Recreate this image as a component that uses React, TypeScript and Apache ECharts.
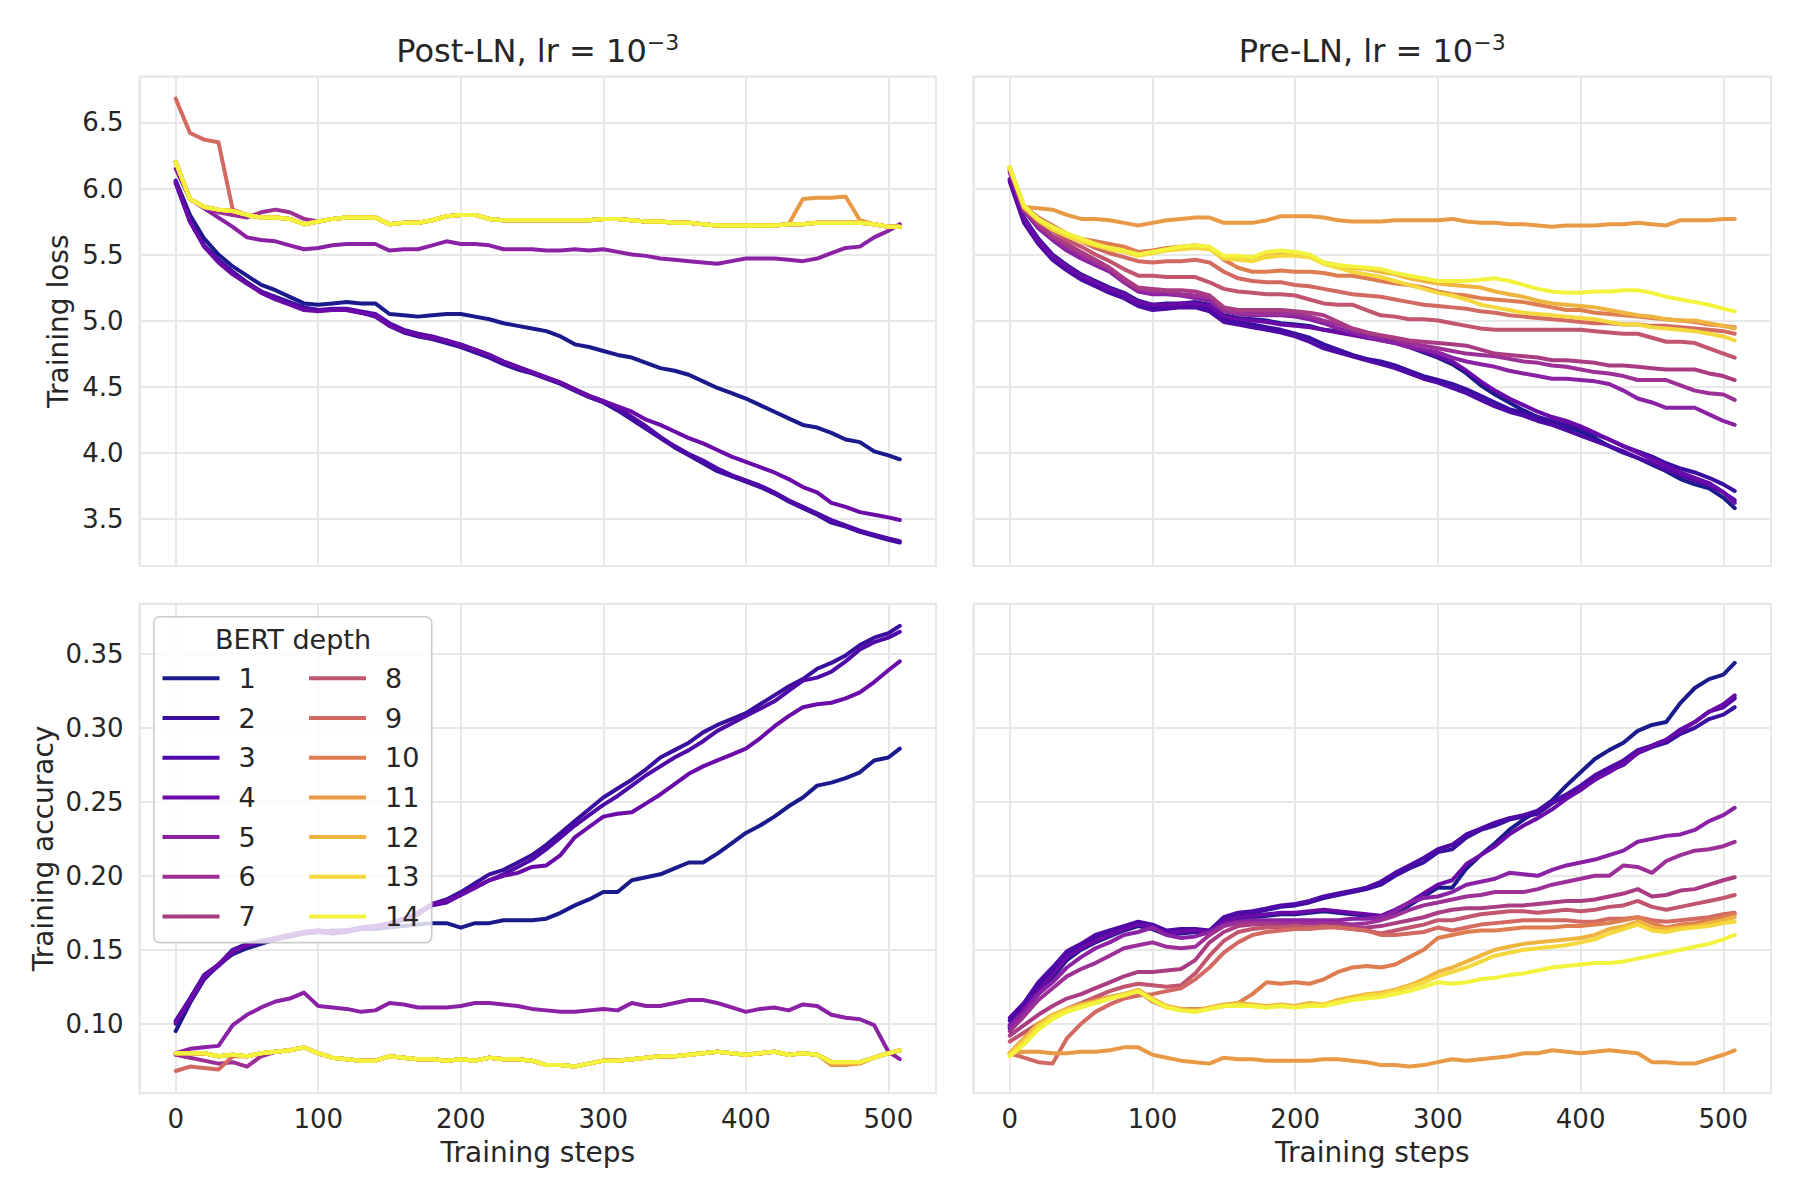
import React, { useEffect, useRef } from 'react';
import * as echarts from 'echarts';

const FONT = 'DejaVu Sans';
const TEXT = '#262626';

const steps = [0, 10, 20, 30, 40, 50, 60, 70, 80, 90, 100, 110, 120, 130, 140, 150, 160, 170, 180, 190, 200, 210, 220, 230, 240, 250, 260, 270, 280, 290, 300, 310, 320, 330, 340, 350, 360, 370, 380, 390, 400, 410, 420, 430, 440, 450, 460, 470, 480, 490, 500, 508];

const depths = ['1', '2', '3', '4', '5', '6', '7', '8', '9', '10', '11', '12', '13', '14'];
const depthColors = ['#1b1a8c', '#3a0f9f', '#4e09a6', '#6a0aa8', '#8b22a6', '#9d3097', '#aa3c84', '#c2566f', '#d26a62', '#de7e50', '#e99a46', '#efb43f', '#f4d83c', '#f3f23c'];

const panelTitles = ['Post-LN, lr = 10', 'Pre-LN, lr = 10'];
const titleExponent = '\u22123';
const xName = 'Training steps';
const yNames = ['Training loss', 'Training accuracy'];
const legendTitle = 'BERT depth';

// ---------- Post-LN training loss ----------
const postLoss1 = [6.06, 5.80, 5.62, 5.50, 5.41, 5.34, 5.27, 5.23, 5.18, 5.13,
  5.12, 5.13, 5.14, 5.13, 5.13, 5.05, 5.04, 5.03, 5.04, 5.05,
  5.05, 5.03, 5.01, 4.98, 4.96, 4.94, 4.92, 4.88, 4.82, 4.80,
  4.77, 4.74, 4.72, 4.68, 4.64, 4.62, 4.59, 4.54, 4.49, 4.45,
  4.41, 4.36, 4.31, 4.26, 4.21, 4.19, 4.15, 4.10, 4.08, 4.01,
  3.98, 3.95];
const postLoss2 = [6.05, 5.76, 5.57, 5.46, 5.37, 5.29, 5.22, 5.18, 5.14, 5.10,
  5.08, 5.08, 5.08, 5.06, 5.03, 4.96, 4.91, 4.88, 4.86, 4.83,
  4.80, 4.76, 4.72, 4.67, 4.63, 4.60, 4.56, 4.52, 4.47, 4.42,
  4.38, 4.32, 4.25, 4.18, 4.11, 4.04, 3.98, 3.92, 3.86, 3.82,
  3.78, 3.74, 3.69, 3.63, 3.58, 3.53, 3.47, 3.44, 3.40, 3.37,
  3.34, 3.32];
const postLoss3 = [6.04, 5.75, 5.56, 5.45, 5.36, 5.28, 5.22, 5.17, 5.13, 5.09,
  5.08, 5.09, 5.09, 5.07, 5.05, 4.98, 4.93, 4.90, 4.88, 4.85,
  4.82, 4.78, 4.74, 4.69, 4.65, 4.61, 4.57, 4.53, 4.48, 4.43,
  4.39, 4.34, 4.27, 4.20, 4.12, 4.05, 3.99, 3.94, 3.88, 3.83,
  3.79, 3.75, 3.70, 3.64, 3.59, 3.54, 3.49, 3.45, 3.41, 3.38,
  3.35, 3.33];
const postLoss4 = [6.05, 5.75, 5.56, 5.44, 5.35, 5.28, 5.21, 5.16, 5.12, 5.08,
  5.07, 5.08, 5.08, 5.06, 5.04, 4.96, 4.92, 4.89, 4.87, 4.85,
  4.81, 4.78, 4.74, 4.69, 4.65, 4.61, 4.57, 4.53, 4.48, 4.43,
  4.39, 4.35, 4.31, 4.25, 4.21, 4.16, 4.11, 4.07, 4.02, 3.97,
  3.93, 3.89, 3.85, 3.80, 3.74, 3.70, 3.62, 3.59, 3.55, 3.53,
  3.51, 3.49];
const postLoss5 = [6.15, 5.92, 5.85, 5.78, 5.71, 5.63, 5.61, 5.60, 5.57, 5.54,
  5.55, 5.57, 5.58, 5.58, 5.58, 5.53, 5.54, 5.54, 5.57, 5.60,
  5.58, 5.58, 5.57, 5.54, 5.54, 5.54, 5.53, 5.53, 5.54, 5.53,
  5.54, 5.52, 5.50, 5.49, 5.47, 5.46, 5.45, 5.44, 5.43, 5.45,
  5.47, 5.47, 5.47, 5.46, 5.45, 5.47, 5.51, 5.55, 5.56, 5.63,
  5.68, 5.73];
const postLoss6 = [6.20, 5.92, 5.86, 5.82, 5.80, 5.78, 5.82, 5.84, 5.82, 5.77,
  5.75, 5.77, 5.78, 5.78, 5.78, 5.73, 5.74, 5.74, 5.76, 5.79,
  5.80, 5.80, 5.77, 5.76, 5.76, 5.76, 5.76, 5.76, 5.76, 5.76,
  5.77, 5.77, 5.76, 5.75, 5.75, 5.74, 5.74, 5.73, 5.72, 5.72,
  5.72, 5.72, 5.72, 5.73, 5.73, 5.74, 5.74, 5.74, 5.74, 5.73,
  5.71, 5.71];
const postLossFlat = [6.20, 5.92, 5.86, 5.84, 5.83, 5.80, 5.78, 5.78, 5.77, 5.73,
  5.75, 5.77, 5.78, 5.78, 5.78, 5.73, 5.74, 5.74, 5.76, 5.79,
  5.80, 5.80, 5.77, 5.76, 5.76, 5.76, 5.76, 5.76, 5.76, 5.76,
  5.77, 5.77, 5.76, 5.75, 5.75, 5.74, 5.74, 5.73, 5.72, 5.72,
  5.72, 5.72, 5.72, 5.73, 5.73, 5.74, 5.74, 5.74, 5.74, 5.73,
  5.71, 5.71];
const postLoss9 = [6.68, 6.42, 6.37, 6.35, 5.84, 5.80, 5.78, 5.78, 5.77, 5.73,
  5.75, 5.77, 5.78, 5.78, 5.78, 5.73, 5.74, 5.74, 5.76, 5.79,
  5.80, 5.80, 5.77, 5.76, 5.76, 5.76, 5.76, 5.76, 5.76, 5.76,
  5.77, 5.77, 5.76, 5.75, 5.75, 5.74, 5.74, 5.73, 5.72, 5.72,
  5.72, 5.72, 5.72, 5.73, 5.73, 5.74, 5.74, 5.74, 5.74, 5.73,
  5.71, 5.71];
const postLoss11 = [6.20, 5.92, 5.86, 5.84, 5.83, 5.80, 5.78, 5.78, 5.77, 5.73,
  5.75, 5.77, 5.78, 5.78, 5.78, 5.73, 5.74, 5.74, 5.76, 5.79,
  5.80, 5.80, 5.77, 5.76, 5.76, 5.76, 5.76, 5.76, 5.76, 5.76,
  5.77, 5.77, 5.76, 5.75, 5.75, 5.74, 5.74, 5.73, 5.72, 5.72,
  5.72, 5.72, 5.72, 5.73, 5.92, 5.93, 5.93, 5.94, 5.76, 5.73,
  5.71, 5.71];

// ---------- Post-LN training accuracy ----------
const postAcc1 = [0.095, 0.114, 0.130, 0.140, 0.147, 0.151, 0.154, 0.157, 0.159, 0.161,
  0.162, 0.163, 0.163, 0.164, 0.164, 0.165, 0.166, 0.167, 0.168, 0.168,
  0.165, 0.168, 0.168, 0.170, 0.170, 0.170, 0.171, 0.175, 0.180, 0.184,
  0.189, 0.189, 0.197, 0.199, 0.201, 0.205, 0.209, 0.209, 0.215, 0.222,
  0.229, 0.234, 0.240, 0.247, 0.253, 0.261, 0.263, 0.266, 0.270, 0.278,
  0.280, 0.286];
const postAcc2 = [0.102, 0.117, 0.133, 0.140, 0.150, 0.154, 0.156, 0.158, 0.160, 0.162,
  0.163, 0.162, 0.163, 0.165, 0.166, 0.168, 0.171, 0.175, 0.181, 0.184,
  0.189, 0.195, 0.201, 0.204, 0.209, 0.214, 0.221, 0.229, 0.237, 0.245,
  0.253, 0.259, 0.265, 0.272, 0.280, 0.285, 0.290, 0.297, 0.302, 0.306,
  0.310, 0.316, 0.322, 0.328, 0.333, 0.340, 0.344, 0.349, 0.356, 0.361,
  0.364, 0.369];
const postAcc3 = [0.100, 0.115, 0.131, 0.139, 0.148, 0.153, 0.155, 0.157, 0.159, 0.161,
  0.162, 0.161, 0.162, 0.164, 0.165, 0.167, 0.170, 0.174, 0.180, 0.182,
  0.187, 0.192, 0.197, 0.201, 0.206, 0.211, 0.218, 0.226, 0.234, 0.241,
  0.248, 0.254, 0.261, 0.268, 0.274, 0.280, 0.285, 0.291, 0.298, 0.303,
  0.308, 0.313, 0.318, 0.325, 0.332, 0.334, 0.338, 0.345, 0.353, 0.358,
  0.361, 0.365];
const postAcc4 = [0.101, 0.116, 0.132, 0.140, 0.149, 0.153, 0.156, 0.158, 0.160, 0.162,
  0.163, 0.162, 0.163, 0.164, 0.166, 0.168, 0.171, 0.175, 0.181, 0.183,
  0.187, 0.192, 0.197, 0.200, 0.202, 0.206, 0.207, 0.214, 0.226, 0.233,
  0.240, 0.242, 0.243, 0.249, 0.255, 0.262, 0.269, 0.274, 0.278, 0.282,
  0.286, 0.293, 0.301, 0.308, 0.314, 0.316, 0.317, 0.320, 0.324, 0.331,
  0.339, 0.345];
const postAcc5 = [0.080, 0.083, 0.084, 0.085, 0.099, 0.106, 0.111, 0.115, 0.117, 0.121,
  0.112, 0.111, 0.110, 0.108, 0.109, 0.114, 0.113, 0.111, 0.111, 0.111,
  0.112, 0.114, 0.114, 0.113, 0.112, 0.110, 0.109, 0.108, 0.108, 0.109,
  0.110, 0.109, 0.114, 0.112, 0.112, 0.114, 0.116, 0.116, 0.114, 0.111,
  0.108, 0.110, 0.111, 0.109, 0.113, 0.112, 0.106, 0.104, 0.103, 0.099,
  0.081, 0.076];
const postAcc6 = [0.079, 0.077, 0.075, 0.073, 0.074, 0.071, 0.078, 0.081, 0.082, 0.084,
  0.080, 0.077, 0.076, 0.075, 0.075, 0.078, 0.077, 0.076, 0.076, 0.075,
  0.076, 0.075, 0.077, 0.076, 0.076, 0.075, 0.072, 0.072, 0.071, 0.073,
  0.075, 0.075, 0.076, 0.077, 0.078, 0.078, 0.079, 0.080, 0.081, 0.080,
  0.079, 0.080, 0.081, 0.079, 0.080, 0.079, 0.074, 0.074, 0.074, 0.077,
  0.080, 0.082];
const postAccFlat = [0.080, 0.080, 0.080, 0.078, 0.079, 0.078, 0.080, 0.081, 0.082, 0.084,
  0.080, 0.077, 0.076, 0.075, 0.075, 0.078, 0.077, 0.076, 0.076, 0.075,
  0.076, 0.075, 0.077, 0.076, 0.076, 0.075, 0.072, 0.072, 0.071, 0.073,
  0.075, 0.075, 0.076, 0.077, 0.078, 0.078, 0.079, 0.080, 0.081, 0.080,
  0.079, 0.080, 0.081, 0.079, 0.080, 0.079, 0.074, 0.074, 0.074, 0.077,
  0.080, 0.082];
const postAcc9 = [0.068, 0.071, 0.070, 0.069, 0.078, 0.078, 0.080, 0.081, 0.082, 0.084,
  0.080, 0.077, 0.076, 0.075, 0.075, 0.078, 0.077, 0.076, 0.076, 0.075,
  0.076, 0.075, 0.077, 0.076, 0.076, 0.075, 0.072, 0.072, 0.071, 0.073,
  0.075, 0.075, 0.076, 0.077, 0.078, 0.078, 0.079, 0.080, 0.081, 0.080,
  0.079, 0.080, 0.081, 0.079, 0.080, 0.079, 0.074, 0.074, 0.074, 0.077,
  0.080, 0.082];
const postAcc11 = [0.080, 0.080, 0.080, 0.078, 0.079, 0.078, 0.080, 0.081, 0.082, 0.084,
  0.080, 0.077, 0.076, 0.075, 0.075, 0.078, 0.077, 0.076, 0.076, 0.075,
  0.076, 0.075, 0.077, 0.076, 0.076, 0.075, 0.072, 0.072, 0.071, 0.073,
  0.075, 0.075, 0.076, 0.077, 0.078, 0.078, 0.079, 0.080, 0.081, 0.080,
  0.079, 0.080, 0.081, 0.079, 0.080, 0.079, 0.072, 0.072, 0.073, 0.077,
  0.080, 0.082];

// ---------- Pre-LN training loss ----------
const preLoss1 = [6.06, 5.78, 5.62, 5.50, 5.42, 5.35, 5.30, 5.25, 5.21, 5.15,
  5.12, 5.13, 5.13, 5.14, 5.12, 5.04, 5.02, 5.01, 5.00, 4.98,
  4.97, 4.96, 4.93, 4.92, 4.90, 4.88, 4.86, 4.84, 4.80, 4.76,
  4.72, 4.67, 4.60, 4.51, 4.44, 4.38, 4.32, 4.27, 4.23, 4.20,
  4.16, 4.11, 4.05, 4.00, 3.96, 3.91, 3.86, 3.80, 3.76, 3.73,
  3.66, 3.58];
const preLoss2 = [6.07, 5.76, 5.60, 5.48, 5.40, 5.33, 5.28, 5.23, 5.19, 5.13,
  5.10, 5.11, 5.11, 5.12, 5.09, 5.01, 4.99, 4.97, 4.95, 4.93,
  4.90, 4.87, 4.82, 4.78, 4.74, 4.71, 4.69, 4.66, 4.62, 4.58,
  4.55, 4.52, 4.48, 4.43, 4.38, 4.33, 4.30, 4.27, 4.24, 4.21,
  4.18, 4.14, 4.10, 4.05, 4.01, 3.97, 3.92, 3.88, 3.85, 3.81,
  3.76, 3.71];
const preLoss3 = [6.05, 5.74, 5.58, 5.46, 5.38, 5.31, 5.26, 5.21, 5.17, 5.11,
  5.08, 5.09, 5.10, 5.10, 5.07, 4.99, 4.97, 4.95, 4.93, 4.91,
  4.88, 4.84, 4.79, 4.76, 4.73, 4.70, 4.67, 4.64, 4.60, 4.56,
  4.53, 4.49, 4.45, 4.40, 4.35, 4.31, 4.28, 4.24, 4.21, 4.17,
  4.13, 4.09, 4.05, 4.01, 3.96, 3.92, 3.87, 3.83, 3.79, 3.75,
  3.70, 3.64];
const preLoss4 = [6.07, 5.77, 5.61, 5.49, 5.41, 5.34, 5.29, 5.24, 5.20, 5.14,
  5.12, 5.12, 5.13, 5.13, 5.11, 5.03, 5.01, 5.00, 4.99, 4.97,
  4.96, 4.95, 4.93, 4.91, 4.89, 4.87, 4.85, 4.83, 4.80, 4.77,
  4.73, 4.69, 4.62, 4.54, 4.47, 4.41, 4.36, 4.31, 4.27, 4.24,
  4.20, 4.15, 4.10, 4.05, 4.00, 3.95, 3.90, 3.85, 3.81, 3.77,
  3.70, 3.62];
const preLoss5 = [6.12, 5.83, 5.70, 5.61, 5.53, 5.47, 5.42, 5.37, 5.29, 5.22,
  5.20, 5.20, 5.19, 5.17, 5.15, 5.07, 5.05, 5.04, 5.04, 5.04,
  5.03, 5.01, 4.98, 4.94, 4.91, 4.88, 4.85, 4.83, 4.80, 4.78,
  4.76, 4.72, 4.69, 4.67, 4.65, 4.62, 4.60, 4.58, 4.56, 4.56,
  4.55, 4.54, 4.52, 4.47, 4.41, 4.38, 4.34, 4.34, 4.34, 4.29,
  4.24, 4.21];
const preLoss6 = [6.13, 5.83, 5.72, 5.63, 5.56, 5.50, 5.44, 5.39, 5.30, 5.24,
  5.22, 5.22, 5.20, 5.19, 5.18, 5.08, 5.06, 5.05, 5.05, 5.05,
  5.05, 5.03, 5.00, 4.97, 4.94, 4.91, 4.88, 4.86, 4.83, 4.81,
  4.79, 4.77, 4.75, 4.74, 4.73, 4.71, 4.69, 4.68, 4.66, 4.65,
  4.63, 4.61, 4.60, 4.58, 4.55, 4.55, 4.55, 4.51, 4.47, 4.45,
  4.44, 4.40];
const preLoss7 = [6.14, 5.84, 5.73, 5.64, 5.58, 5.52, 5.46, 5.40, 5.32, 5.25,
  5.24, 5.23, 5.23, 5.22, 5.19, 5.10, 5.08, 5.08, 5.08, 5.08,
  5.07, 5.06, 5.04, 4.99, 4.94, 4.91, 4.89, 4.87, 4.85, 4.84,
  4.83, 4.82, 4.81, 4.78, 4.75, 4.74, 4.73, 4.72, 4.70, 4.70,
  4.69, 4.68, 4.66, 4.66, 4.65, 4.64, 4.63, 4.63, 4.63, 4.60,
  4.58, 4.55];
const preLoss8 = [6.15, 5.86, 5.75, 5.68, 5.61, 5.56, 5.50, 5.45, 5.39, 5.34,
  5.34, 5.33, 5.33, 5.33, 5.29, 5.24, 5.22, 5.21, 5.20, 5.20,
  5.19, 5.16, 5.13, 5.12, 5.12, 5.08, 5.04, 5.03, 5.01, 5.01,
  5.00, 4.98, 4.96, 4.94, 4.93, 4.93, 4.93, 4.93, 4.93, 4.93,
  4.93, 4.92, 4.91, 4.90, 4.90, 4.87, 4.84, 4.84, 4.83, 4.79,
  4.75, 4.72];
const preLoss9 = [6.14, 5.87, 5.78, 5.72, 5.66, 5.60, 5.55, 5.51, 5.48, 5.45,
  5.44, 5.45, 5.45, 5.46, 5.44, 5.37, 5.32, 5.30, 5.29, 5.29,
  5.27, 5.26, 5.24, 5.22, 5.20, 5.19, 5.18, 5.16, 5.14, 5.12,
  5.11, 5.10, 5.09, 5.07, 5.06, 5.04, 5.03, 5.02, 5.01, 5.00,
  4.99, 4.98, 4.98, 4.97, 4.97, 4.96, 4.96, 4.95, 4.94, 4.93,
  4.92, 4.90];
const preLoss10 = [6.16, 5.85, 5.76, 5.70, 5.65, 5.62, 5.60, 5.58, 5.56, 5.52,
  5.53, 5.55, 5.56, 5.57, 5.55, 5.46, 5.40, 5.37, 5.37, 5.38,
  5.37, 5.37, 5.36, 5.34, 5.34, 5.32, 5.30, 5.28, 5.27, 5.25,
  5.22, 5.20, 5.19, 5.17, 5.16, 5.15, 5.14, 5.12, 5.10, 5.08,
  5.08, 5.06, 5.05, 5.04, 5.03, 5.02, 5.01, 5.00, 4.99, 4.97,
  4.96, 4.95];
const preLoss11 = [6.16, 5.86, 5.85, 5.84, 5.80, 5.77, 5.77, 5.76, 5.74, 5.72,
  5.74, 5.76, 5.77, 5.78, 5.78, 5.74, 5.74, 5.74, 5.76, 5.79,
  5.79, 5.79, 5.78, 5.76, 5.75, 5.75, 5.75, 5.76, 5.76, 5.76,
  5.76, 5.77, 5.75, 5.74, 5.74, 5.73, 5.73, 5.72, 5.71, 5.72,
  5.72, 5.72, 5.73, 5.73, 5.74, 5.73, 5.72, 5.76, 5.76, 5.76,
  5.77, 5.77];
const preLoss12 = [6.16, 5.86, 5.76, 5.69, 5.64, 5.60, 5.57, 5.55, 5.53, 5.50,
  5.52, 5.54, 5.55, 5.56, 5.55, 5.48, 5.47, 5.46, 5.49, 5.50,
  5.50, 5.49, 5.44, 5.42, 5.40, 5.39, 5.37, 5.35, 5.32, 5.30,
  5.28, 5.27, 5.26, 5.25, 5.22, 5.20, 5.18, 5.15, 5.13, 5.12,
  5.11, 5.10, 5.08, 5.06, 5.04, 5.03, 5.01, 5.00, 5.00, 4.98,
  4.96, 4.94];
const preLoss13 = [6.16, 5.86, 5.76, 5.69, 5.64, 5.60, 5.57, 5.54, 5.52, 5.49,
  5.51, 5.53, 5.54, 5.55, 5.54, 5.47, 5.46, 5.45, 5.48, 5.49,
  5.49, 5.48, 5.43, 5.40, 5.37, 5.35, 5.33, 5.30, 5.27, 5.24,
  5.21, 5.19, 5.16, 5.12, 5.10, 5.08, 5.06, 5.05, 5.04, 5.03,
  5.02, 5.01, 4.99, 4.97, 4.97, 4.95, 4.94, 4.93, 4.92, 4.90,
  4.88, 4.85];
const preLoss14 = [6.16, 5.87, 5.77, 5.71, 5.66, 5.62, 5.58, 5.55, 5.53, 5.50,
  5.52, 5.54, 5.56, 5.57, 5.56, 5.49, 5.49, 5.48, 5.52, 5.53,
  5.52, 5.50, 5.44, 5.42, 5.41, 5.40, 5.39, 5.36, 5.34, 5.32,
  5.30, 5.30, 5.30, 5.31, 5.32, 5.30, 5.27, 5.24, 5.22, 5.21,
  5.21, 5.22, 5.22, 5.23, 5.23, 5.21, 5.18, 5.16, 5.14, 5.12,
  5.09, 5.07];

// ---------- Pre-LN training accuracy ----------
const preAcc1 = [0.097, 0.108, 0.120, 0.131, 0.143, 0.150, 0.155, 0.159, 0.163, 0.166,
  0.164, 0.160, 0.161, 0.162, 0.161, 0.168, 0.171, 0.172, 0.173, 0.174,
  0.174, 0.175, 0.176, 0.175, 0.174, 0.173, 0.171, 0.175, 0.180, 0.186,
  0.192, 0.192, 0.205, 0.214, 0.222, 0.231, 0.238, 0.244, 0.251, 0.261,
  0.270, 0.279, 0.285, 0.290, 0.298, 0.302, 0.304, 0.317, 0.327, 0.333,
  0.336, 0.344];
const preAcc2 = [0.102, 0.112, 0.125, 0.135, 0.147, 0.152, 0.158, 0.161, 0.165, 0.168,
  0.166, 0.162, 0.163, 0.163, 0.162, 0.171, 0.174, 0.175, 0.177, 0.179,
  0.180, 0.182, 0.185, 0.187, 0.189, 0.191, 0.194, 0.200, 0.205, 0.209,
  0.216, 0.218, 0.226, 0.231, 0.234, 0.238, 0.240, 0.242, 0.249, 0.254,
  0.259, 0.265, 0.271, 0.275, 0.283, 0.287, 0.290, 0.296, 0.300, 0.306,
  0.309, 0.314];
const preAcc3 = [0.104, 0.114, 0.128, 0.138, 0.149, 0.154, 0.160, 0.163, 0.166, 0.169,
  0.167, 0.163, 0.164, 0.164, 0.163, 0.172, 0.175, 0.176, 0.178, 0.180,
  0.181, 0.183, 0.186, 0.188, 0.190, 0.192, 0.196, 0.202, 0.207, 0.212,
  0.218, 0.221, 0.228, 0.232, 0.236, 0.239, 0.241, 0.244, 0.250, 0.255,
  0.261, 0.268, 0.273, 0.278, 0.285, 0.288, 0.292, 0.299, 0.304, 0.311,
  0.314, 0.320];
const preAcc4 = [0.099, 0.110, 0.122, 0.133, 0.145, 0.151, 0.156, 0.160, 0.164, 0.167,
  0.165, 0.161, 0.162, 0.163, 0.162, 0.169, 0.172, 0.173, 0.174, 0.175,
  0.175, 0.176, 0.177, 0.176, 0.175, 0.174, 0.173, 0.177, 0.182, 0.188,
  0.194, 0.197, 0.208, 0.214, 0.220, 0.228, 0.234, 0.239, 0.245, 0.252,
  0.258, 0.265, 0.270, 0.276, 0.283, 0.288, 0.292, 0.298, 0.304, 0.311,
  0.316, 0.322];
const preAcc5 = [0.098, 0.108, 0.120, 0.128, 0.138, 0.145, 0.151, 0.155, 0.160, 0.162,
  0.165, 0.160, 0.158, 0.159, 0.162, 0.167, 0.169, 0.170, 0.170, 0.170,
  0.170, 0.170, 0.170, 0.170, 0.171, 0.171, 0.172, 0.176, 0.182, 0.185,
  0.186, 0.189, 0.194, 0.196, 0.198, 0.202, 0.201, 0.200, 0.204, 0.207,
  0.209, 0.211, 0.214, 0.217, 0.223, 0.225, 0.227, 0.228, 0.231, 0.237,
  0.241, 0.246];
const preAcc6 = [0.095, 0.105, 0.116, 0.124, 0.132, 0.137, 0.141, 0.146, 0.151, 0.153,
  0.155, 0.152, 0.151, 0.152, 0.160, 0.166, 0.168, 0.168, 0.168, 0.168,
  0.168, 0.168, 0.168, 0.168, 0.167, 0.168, 0.170, 0.173, 0.177, 0.180,
  0.182, 0.184, 0.186, 0.187, 0.189, 0.189, 0.189, 0.191, 0.194, 0.196,
  0.198, 0.200, 0.200, 0.207, 0.206, 0.202, 0.210, 0.214, 0.217, 0.218,
  0.220, 0.223];
const preAcc7 = [0.092, 0.099, 0.106, 0.112, 0.117, 0.120, 0.124, 0.128, 0.132, 0.135,
  0.135, 0.136, 0.137, 0.143, 0.155, 0.162, 0.166, 0.167, 0.167, 0.166,
  0.165, 0.165, 0.165, 0.166, 0.165, 0.165, 0.166, 0.168, 0.170, 0.172,
  0.175, 0.177, 0.178, 0.178, 0.179, 0.180, 0.180, 0.181, 0.182, 0.183,
  0.183, 0.184, 0.186, 0.188, 0.191, 0.186, 0.187, 0.190, 0.191, 0.194,
  0.197, 0.199];
const preAcc8 = [0.088, 0.094, 0.100, 0.105, 0.110, 0.114, 0.118, 0.122, 0.125, 0.127,
  0.126, 0.125, 0.126, 0.134, 0.146, 0.156, 0.162, 0.164, 0.165, 0.165,
  0.166, 0.165, 0.166, 0.165, 0.164, 0.163, 0.161, 0.163, 0.165, 0.167,
  0.170, 0.170, 0.172, 0.174, 0.175, 0.176, 0.176, 0.175, 0.176, 0.177,
  0.176, 0.177, 0.179, 0.180, 0.183, 0.179, 0.177, 0.179, 0.181, 0.183,
  0.185, 0.187];
const preAcc9 = [0.080, 0.077, 0.074, 0.073, 0.090, 0.100, 0.108, 0.113, 0.117, 0.119,
  0.120, 0.122, 0.124, 0.130, 0.138, 0.148, 0.155, 0.160, 0.162, 0.163,
  0.164, 0.164, 0.165, 0.165, 0.164, 0.163, 0.160, 0.160, 0.161, 0.162,
  0.165, 0.163, 0.165, 0.167, 0.168, 0.169, 0.170, 0.170, 0.170, 0.170,
  0.169, 0.169, 0.171, 0.171, 0.172, 0.170, 0.169, 0.170, 0.171, 0.172,
  0.174, 0.175];
const preAcc10 = [0.080, 0.090, 0.100, 0.105, 0.110, 0.113, 0.116, 0.118, 0.120, 0.122,
  0.115, 0.111, 0.110, 0.110, 0.110, 0.112, 0.114, 0.120, 0.128, 0.127,
  0.128, 0.127, 0.130, 0.135, 0.138, 0.139, 0.138, 0.140, 0.145, 0.150,
  0.158, 0.160, 0.162, 0.163, 0.163, 0.164, 0.165, 0.165, 0.165, 0.166,
  0.166, 0.167, 0.168, 0.170, 0.172, 0.168, 0.165, 0.167, 0.168, 0.170,
  0.172, 0.174];
const preAcc11 = [0.080, 0.081, 0.081, 0.080, 0.080, 0.081, 0.081, 0.082, 0.084, 0.084,
  0.079, 0.077, 0.075, 0.074, 0.073, 0.077, 0.076, 0.076, 0.075, 0.075,
  0.075, 0.075, 0.076, 0.076, 0.075, 0.074, 0.072, 0.072, 0.071, 0.072,
  0.074, 0.076, 0.075, 0.076, 0.077, 0.078, 0.080, 0.080, 0.082, 0.081,
  0.080, 0.081, 0.082, 0.081, 0.080, 0.074, 0.074, 0.073, 0.073, 0.076,
  0.079, 0.082];
const preAcc12 = [0.080, 0.090, 0.100, 0.106, 0.110, 0.113, 0.115, 0.118, 0.120, 0.123,
  0.117, 0.112, 0.110, 0.109, 0.111, 0.113, 0.114, 0.113, 0.112, 0.113,
  0.112, 0.114, 0.113, 0.116, 0.118, 0.120, 0.121, 0.123, 0.126, 0.130,
  0.135, 0.138, 0.142, 0.146, 0.150, 0.152, 0.154, 0.155, 0.156, 0.157,
  0.158, 0.160, 0.164, 0.166, 0.169, 0.165, 0.164, 0.165, 0.166, 0.168,
  0.170, 0.172];
const preAcc13 = [0.079, 0.088, 0.098, 0.105, 0.109, 0.112, 0.114, 0.117, 0.120, 0.122,
  0.116, 0.111, 0.109, 0.108, 0.110, 0.112, 0.113, 0.112, 0.111, 0.112,
  0.111, 0.113, 0.113, 0.115, 0.117, 0.119, 0.120, 0.122, 0.125, 0.128,
  0.132, 0.135, 0.138, 0.142, 0.146, 0.148, 0.150, 0.151, 0.152, 0.153,
  0.155, 0.157, 0.161, 0.164, 0.167, 0.163, 0.162, 0.164, 0.165, 0.166,
  0.168, 0.169];
const preAcc14 = [0.078, 0.086, 0.096, 0.103, 0.108, 0.111, 0.114, 0.117, 0.119, 0.122,
  0.116, 0.111, 0.109, 0.108, 0.110, 0.112, 0.112, 0.112, 0.111, 0.112,
  0.111, 0.112, 0.112, 0.114, 0.116, 0.117, 0.118, 0.120, 0.122, 0.125,
  0.128, 0.127, 0.128, 0.130, 0.131, 0.133, 0.134, 0.136, 0.138, 0.139,
  0.140, 0.141, 0.141, 0.142, 0.144, 0.146, 0.148, 0.150, 0.152, 0.154,
  0.157, 0.160];

const postLossSeries = [postLoss1, postLoss2, postLoss3, postLoss4, postLoss5, postLoss6, postLossFlat, postLossFlat, postLoss9, postLossFlat, postLoss11, postLossFlat, postLossFlat, postLossFlat];
const preLossSeries = [preLoss1, preLoss2, preLoss3, preLoss4, preLoss5, preLoss6, preLoss7, preLoss8, preLoss9, preLoss10, preLoss11, preLoss12, preLoss13, preLoss14];
const postAccSeries = [postAcc1, postAcc2, postAcc3, postAcc4, postAcc5, postAcc6, postAccFlat, postAccFlat, postAcc9, postAccFlat, postAcc11, postAccFlat, postAccFlat, postAccFlat];
const preAccSeries = [preAcc1, preAcc2, preAcc3, preAcc4, preAcc5, preAcc6, preAcc7, preAcc8, preAcc9, preAcc10, preAcc11, preAcc12, preAcc13, preAcc14];

const X_MIN = -25.4;
const X_MAX = 533.4;
const LOSS_MIN = 3.142;
const LOSS_MAX = 6.848;
const ACC_MIN = 0.053;
const ACC_MAX = 0.384;

function isMultiple(v: number, step: number) {
  const r = v / step;
  return Math.abs(r - Math.round(r)) < 1e-6;
}

export default function App() {
  const ref = useRef<HTMLDivElement>(null);

  useEffect(() => {
    if (!ref.current) return;
    const chart = echarts.init(ref.current, null, { renderer: 'svg' });

    const grids = [
      { left: 139.5, top: 76.5, width: 796.5, height: 489.5 },
      { left: 973.5, top: 76.5, width: 797.5, height: 489.5 },
      { left: 139.5, top: 603.7, width: 796.5, height: 489.5 },
      { left: 973.5, top: 603.7, width: 797.5, height: 489.5 },
    ].map((g) => ({ ...g, show: true, borderColor: '#e2e2e2', borderWidth: 2, backgroundColor: 'rgba(0,0,0,0)' }));

    const gridLine = { lineStyle: { color: '#e8e8e8', width: 2 } };

    const xAxes = [0, 1, 2, 3].map((i) => ({
      type: 'value',
      gridIndex: i,
      min: X_MIN,
      max: X_MAX,
      axisLine: { show: false },
      axisTick: { show: false },
      splitLine: gridLine,
      axisLabel: {
        show: i >= 2,
        margin: 13,
        fontSize: 26,
        fontFamily: FONT,
        color: TEXT,
        showMinLabel: false,
        showMaxLabel: false,
        formatter: (v: number) => (isMultiple(v, 100) ? String(Math.round(v)) : ''),
      },
      name: i >= 2 ? xName : '',
      nameLocation: 'middle',
      nameGap: 45,
      nameTextStyle: { fontSize: 28, fontFamily: FONT, color: TEXT },
    }));

    const yAxes = [0, 1, 2, 3].map((i) => {
      const isLoss = i < 2;
      const step = isLoss ? 0.5 : 0.05;
      return {
        type: 'value',
        gridIndex: i,
        min: isLoss ? LOSS_MIN : ACC_MIN,
        max: isLoss ? LOSS_MAX : ACC_MAX,
        splitNumber: isLoss ? 7 : 5,
        axisLine: { show: false },
        axisTick: { show: false },
        splitLine: gridLine,
        axisLabel: {
          show: i % 2 === 0,
          margin: 16,
          fontSize: 26,
          fontFamily: FONT,
          color: TEXT,
          showMinLabel: false,
          showMaxLabel: false,
          formatter: (v: number) => (isMultiple(v, step) ? v.toFixed(isLoss ? 1 : 2) : ''),
        },
        name: i === 0 ? yNames[0] : i === 2 ? yNames[1] : '',
        nameLocation: 'middle',
        nameGap: i === 0 ? 67 : 82,
        nameTextStyle: { fontSize: 28, fontFamily: FONT, color: TEXT },
      };
    });

    const panels = [postLossSeries, preLossSeries, postAccSeries, preAccSeries];
    const series: any[] = [];
    panels.forEach((panel, gi) => {
      panel.forEach((vals, d) => {
        series.push({
          type: 'line',
          name: depths[d],
          xAxisIndex: gi,
          yAxisIndex: gi,
          data: steps.map((s, k) => [s, vals[k]]),
          color: depthColors[d],
          showSymbol: false,
          symbol: 'none',
          lineStyle: { width: 4, color: depthColors[d], join: 'round', cap: 'round' },
          emphasis: { disabled: true },
          silent: true,
        });
      });
    });

    const legendCommon = {
      orient: 'vertical',
      top: 664.8,
      padding: 0,
      itemWidth: 57,
      itemHeight: 4,
      itemGap: 12.7,
      icon: 'rect',
      selectedMode: false,
      z: 6,
      textStyle: { fontSize: 27, lineHeight: 27, fontFamily: FONT, color: TEXT, padding: [0, 0, 0, 14] },
    };

    const titleRich = {
      m: { fontSize: 32, lineHeight: 38, fontFamily: FONT, fill: TEXT },
      s: { fontSize: 22, lineHeight: 28, fontFamily: FONT, fill: TEXT, verticalAlign: 'top' },
    };

    const option = {
      animation: false,
      backgroundColor: '#ffffff',
      grid: grids,
      xAxis: xAxes,
      yAxis: yAxes,
      series,
      legend: [
        { ...legendCommon, left: 162.5, data: depths.slice(0, 7) },
        { ...legendCommon, left: 309, data: depths.slice(7) },
      ],
      graphic: [
        {
          type: 'text',
          x: 537.7,
          y: 50.6,
          z: 10,
          style: {
            text: '{m|' + panelTitles[0] + '}{s|' + titleExponent + '}',
            rich: titleRich,
            align: 'center',
            verticalAlign: 'middle',
            fill: TEXT,
            font: '32px "DejaVu Sans"',
          },
        },
        {
          type: 'text',
          x: 1372.2,
          y: 50.6,
          z: 10,
          style: {
            text: '{m|' + panelTitles[1] + '}{s|' + titleExponent + '}',
            rich: titleRich,
            align: 'center',
            verticalAlign: 'middle',
            fill: TEXT,
            font: '32px "DejaVu Sans"',
          },
        },
        {
          type: 'rect',
          z: 5,
          shape: { x: 153.8, y: 616.8, width: 277.9, height: 325.8, r: 6 },
          style: { fill: 'rgba(255,255,255,0.8)', stroke: '#cccccc', lineWidth: 1.6 },
        },
        {
          type: 'text',
          z: 7,
          x: 293,
          y: 639,
          style: {
            text: legendTitle,
            align: 'center',
            verticalAlign: 'middle',
            fill: TEXT,
            font: '27px "DejaVu Sans"',
          },
        },
      ],
    };

    chart.setOption(option as any);
    return () => chart.dispose();
  }, []);

  return <div ref={ref} style={{ position: 'absolute', left: 0, top: 0, width: 1800, height: 1200 }} />;
}
